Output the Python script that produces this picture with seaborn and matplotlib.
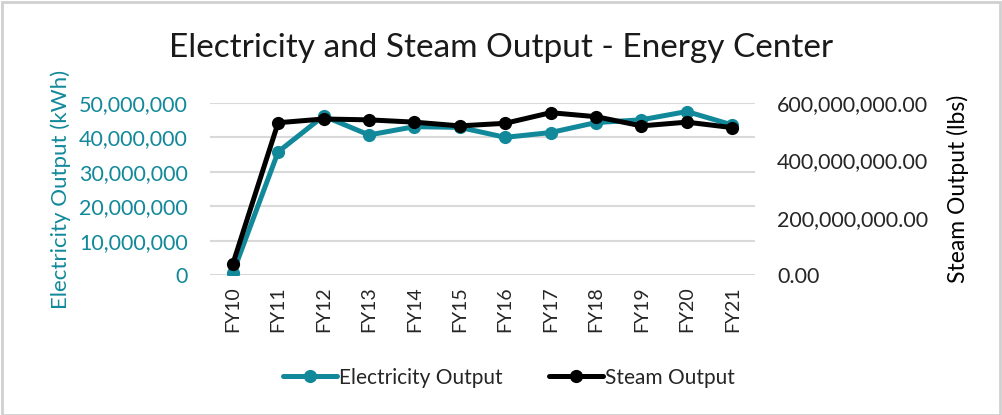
import matplotlib
matplotlib.use("Agg")
import matplotlib.pyplot as plt
import seaborn as sns
import pandas as pd
from matplotlib.ticker import FuncFormatter
from matplotlib.lines import Line2D
from matplotlib.patches import Rectangle

years = ["FY10", "FY11", "FY12", "FY13", "FY14", "FY15", "FY16", "FY17", "FY18", "FY19", "FY20", "FY21"]
electricity = [500000, 35800000, 46200000, 40700000, 43100000, 42900000, 40000000, 41400000, 44300000, 45100000, 47500000, 43600000]
steam = [38000000, 531000000, 544000000, 541000000, 533000000, 520000000, 529000000, 566000000, 552000000, 520000000, 533000000, 514000000]

left_ticks = [0, 10000000, 20000000, 30000000, 40000000, 50000000]
right_ticks = [0, 200000000, 400000000, 600000000]

TEAL = "#12899A"

sns.set_theme(style="white")
plt.rcParams["font.family"] = ["Lato", "DejaVu Sans"]

df = pd.DataFrame({"year": years, "electricity": electricity, "steam": steam})

fig = plt.figure(figsize=(10.02, 4.15), dpi=100)
ax = fig.add_axes([0.2096, 0.337, 0.5439, 0.415])
ax2 = ax.twinx()

sns.lineplot(data=df, x="year", y="electricity", ax=ax, color=TEAL, linewidth=3.6,
             marker="o", markersize=9.5, markeredgewidth=0, sort=False)
sns.lineplot(data=df, x="year", y="steam", ax=ax2, color="black", linewidth=3.6,
             marker="o", markersize=9.5, markeredgewidth=0, sort=False)

ax.set_xlim(-0.5, len(years) - 0.5)
ax.set_ylim(0, 50000000)
ax2.set_ylim(0, 600000000)
ax.set_yticks(left_ticks)
ax2.set_yticks(right_ticks)
ax.yaxis.set_major_formatter(FuncFormatter(lambda v, p: f"{int(v):,}"))
ax2.yaxis.set_major_formatter(FuncFormatter(lambda v, p: f"{v:,.2f}"))

ax.grid(axis="y", color="#D9D9D9", linewidth=1.5)
ax.grid(axis="x", visible=False)
ax2.grid(False)
for a in (ax, ax2):
    for s in a.spines.values():
        s.set_visible(False)
    a.tick_params(length=0)

ax.set_xticks(range(len(years)))
ax.set_xticklabels(years, rotation=90, fontsize=14, color="#262626")
ax.tick_params(axis="x", pad=8)
ax.tick_params(axis="y", labelsize=15.5, labelcolor=TEAL, pad=16)
ax2.tick_params(axis="y", labelsize=15.5, labelcolor="#262626", pad=16)

ax.set_xlabel("")
ax.set_ylabel("Electricity Output (kWh)", fontsize=16, color=TEAL, labelpad=6)
ax2.set_ylabel("Steam Output (lbs)", fontsize=16.5, color="black", labelpad=13)

fig.text(0.5, 1 - 48 / 415, "Electricity and Steam Output - Energy Center", fontsize=24,
         color="#1a1a1a", ha="center", va="center")

handles = [
    Line2D([], [], color=TEAL, linewidth=3.6, marker="o", markersize=9.5, markeredgewidth=0),
    Line2D([], [], color="black", linewidth=3.6, marker="o", markersize=9.5, markeredgewidth=0),
]
fig.legend(handles, ["Electricity Output", "Steam Output"], loc="center", ncol=2,
           bbox_to_anchor=(0.508, 0.09), frameon=False, fontsize=15,
           handlelength=2.6, handletextpad=0.1, columnspacing=2.2)

fig.patches.append(Rectangle((0.002, 0.0), 0.996, 0.995, transform=fig.transFigure,
                             fill=False, edgecolor="#D0D0D0", linewidth=2))

fig.savefig("out.png", dpi=100)
